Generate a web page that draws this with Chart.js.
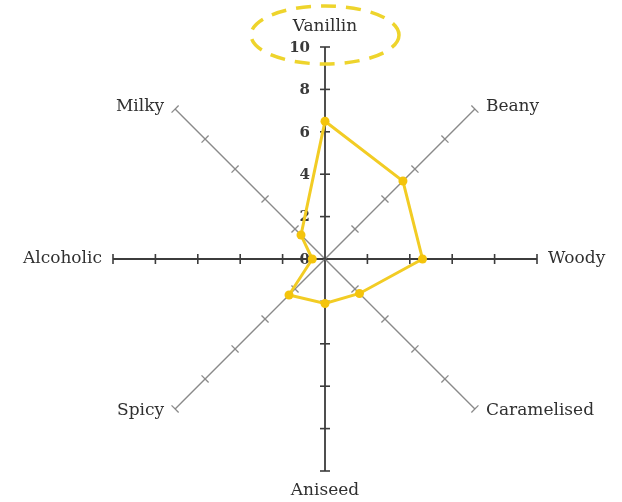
<!DOCTYPE html>
<html>
<head>
<meta charset="utf-8">
<script src="https://cdn.jsdelivr.net/npm/chart.js@4"></script>
<style>
    html, body { margin: 0; padding: 0; background: #fff; }
    #wrap { width: 622px; height: 502px; position: relative; }
</style>
</head>
<body>
<div id="wrap"><canvas id="chart"></canvas></div>
<script>
const attributes = ['Vanillin', 'Beany', 'Woody', 'Caramelised', 'Aniseed', 'Spicy', 'Alcoholic', 'Milky'];
const scores = [6.5, 5.2, 4.6, 2.3, 2.1, 2.4, 0.6, 1.6];
const tickValues = [0, 2, 4, 6, 8, 10];
const highlighted = 'Vanillin';

const yellow = '#f2cc24';
const serif = '"DejaVu Serif", serif';

// where each attribute name sits, relative to the end of its spoke
function labelSpot(scale, i) {
    const c = scale.getPointPositionForValue(i, 0);
    const end = scale.getPointPositionForValue(i, 10);
    const len = Math.hypot(end.x - c.x, end.y - c.y);
    const ux = (end.x - c.x) / len;
    const uy = (end.y - c.y) / len;
    if (Math.abs(ux) < 0.1) {
        return { x: end.x, y: end.y + uy * 20, align: 'center' };
    }
    return {
        x: end.x + (ux > 0 ? 11 : -11),
        y: end.y + uy * 3,
        align: ux > 0 ? 'left' : 'right'
    };
}

const axisMarks = {
    id: 'axisMarks',
    beforeDatasetsDraw(chart) {
        const r = chart.scales.r;
        const ctx = chart.ctx;
        ctx.save();
        attributes.forEach((name, i) => {
            const c = r.getPointPositionForValue(i, 0);
            const end = r.getPointPositionForValue(i, 10);
            const len = Math.hypot(end.x - c.x, end.y - c.y);
            const ux = (end.x - c.x) / len, uy = (end.y - c.y) / len;
            const main = i % 2 === 0;
            ctx.strokeStyle = main ? '#3c3c3c' : '#8a8a8a';
            ctx.lineWidth = main ? 1.6 : 1.3;
            tickValues.slice(1).forEach(v => {
                const p = r.getPointPositionForValue(i, v);
                ctx.beginPath();
                ctx.moveTo(p.x - uy * 5, p.y + ux * 5);
                ctx.lineTo(p.x + uy * 5, p.y - ux * 5);
                ctx.stroke();
            });
        });

        ctx.fillStyle = '#3a3a3a';
        ctx.font = 'bold 15px ' + serif;
        ctx.textAlign = 'right';
        ctx.textBaseline = 'middle';
        tickValues.forEach(v => {
            const p = r.getPointPositionForValue(0, v);
            ctx.fillText(String(v), p.x - 15, p.y + 1);
        });

        ctx.font = '17px ' + serif;
        ctx.fillStyle = '#303030';
        attributes.forEach((name, i) => {
            const s = labelSpot(r, i);
            ctx.textAlign = s.align;
            ctx.fillText(name, s.x, s.y);
        });
        ctx.restore();
    }
};

const highlightRing = {
    id: 'highlightRing',
    afterDraw(chart) {
        const r = chart.scales.r;
        const ctx = chart.ctx;
        const s = labelSpot(r, attributes.indexOf(highlighted));
        ctx.save();
        ctx.strokeStyle = '#eed42c';
        ctx.lineWidth = 3.5;
        ctx.setLineDash([15, 10]);
        ctx.beginPath();
        ctx.ellipse(s.x, s.y + 8, 74, 29, 0, 0, Math.PI * 2);
        ctx.stroke();
        ctx.restore();
    }
};

new Chart(document.getElementById('chart'), {
    type: 'radar',
    data: {
        labels: attributes,
        datasets: [{
            data: scores,
            borderColor: yellow,
            backgroundColor: yellow,
            borderWidth: 3,
            pointRadius: 4.5,
            pointBackgroundColor: '#f4c40c',
            pointBorderWidth: 0,
            fill: false,
            tension: 0
        }]
    },
    options: {
        responsive: true,
        maintainAspectRatio: false,
        animation: false,
        layout: { padding: { top: 47, bottom: 30, left: 112, right: 84 } },
        plugins: {
            legend: { display: false },
            tooltip: { enabled: false }
        },
        scales: {
            r: {
                min: 0,
                max: 10,
                ticks: { display: false, stepSize: 2 },
                grid: { display: false },
                angleLines: {
                    display: true,
                    color: c => c.index % 2 === 0 ? '#3c3c3c' : '#8a8a8a',
                    lineWidth: c => c.index % 2 === 0 ? 1.8 : 1.4
                },
                pointLabels: { display: false }
            }
        }
    },
    plugins: [axisMarks, highlightRing]
});
</script>
</body>
</html>
